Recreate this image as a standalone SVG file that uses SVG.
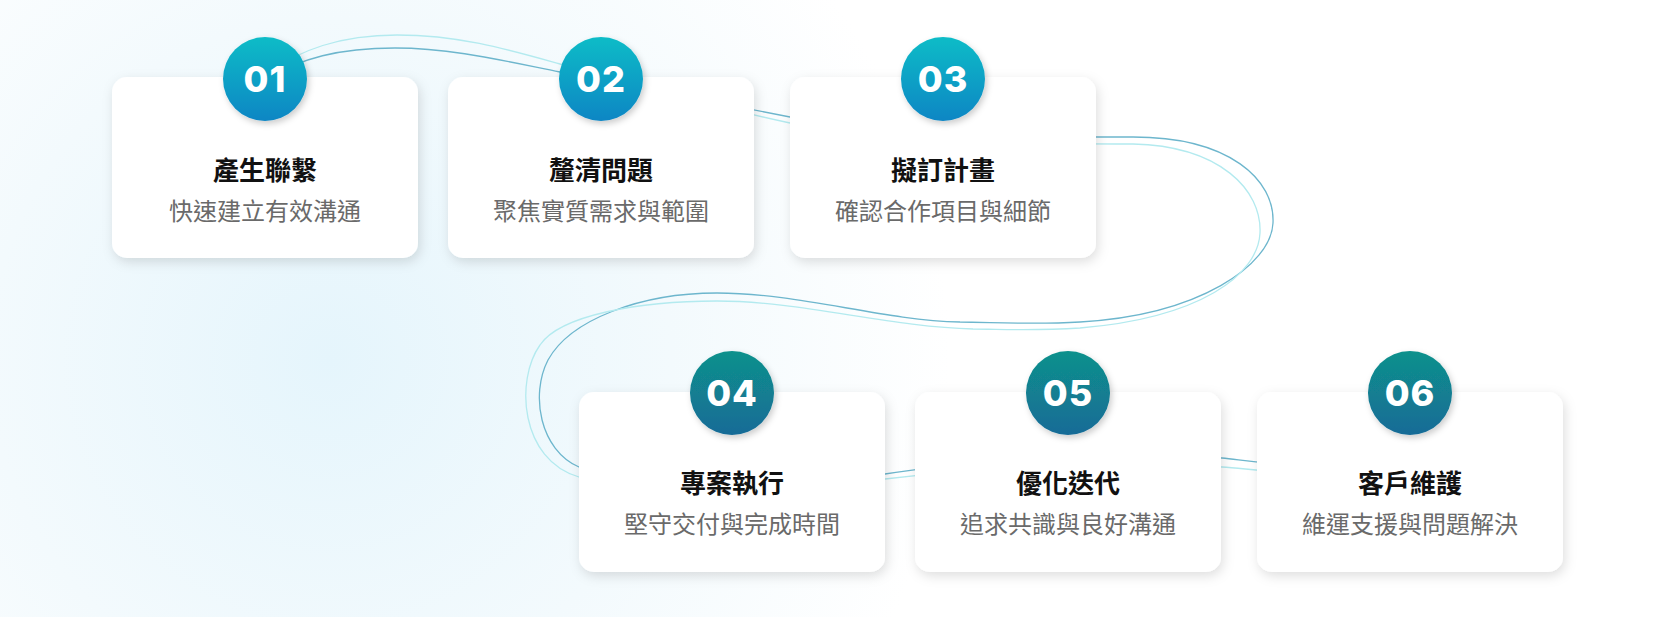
<svg xmlns="http://www.w3.org/2000/svg" width="1675" height="617" viewBox="0 0 1675 617">
  <defs>
    <radialGradient id="bg" cx="330" cy="360" r="620" gradientUnits="userSpaceOnUse">
      <stop offset="0" stop-color="#e5f5fc"/>
      <stop offset="0.55" stop-color="#f3fafd"/>
      <stop offset="1" stop-color="#ffffff"/>
    </radialGradient>
    <linearGradient id="gTop" x1="0" y1="0" x2="0" y2="1">
      <stop offset="0" stop-color="#0bbcc7"/>
      <stop offset="1" stop-color="#0e86c4"/>
    </linearGradient>
    <linearGradient id="gBot" x1="0" y1="0" x2="0" y2="1">
      <stop offset="0" stop-color="#10918c"/>
      <stop offset="1" stop-color="#146b97"/>
    </linearGradient>
    <filter id="shadow" x="-20%" y="-20%" width="140%" height="150%">
      <feDropShadow dx="2" dy="4" stdDeviation="6" flood-color="#000" flood-opacity="0.13"/>
    </filter>
    <filter id="cshadow" x="-30%" y="-30%" width="160%" height="160%">
      <feDropShadow dx="2" dy="3" stdDeviation="3" flood-color="#000" flood-opacity="0.2"/>
    </filter>
  </defs>
  <style>
    .card { fill: #ffffff; filter: url(#shadow); }
    .dark { fill: none; stroke: #6db6cd; stroke-width: 1.3; }
    .light { fill: none; stroke: #b3eaef; stroke-width: 1.3; }
    .num { font-family: Inter, "Noto Sans", sans-serif; font-weight: 800; font-size: 36px; fill: #ffffff; text-anchor: middle; letter-spacing: 1px; }
    .title { font-family: "Noto Sans CJK TC", "Noto Sans CJK SC", sans-serif; font-weight: 700; font-size: 26px; fill: #111111; text-anchor: middle; }
    .sub { font-family: "Noto Sans CJK TC", "Noto Sans CJK SC", sans-serif; font-weight: 400; font-size: 24px; fill: #6a6a6a; text-anchor: middle; }
    .ctop { fill: url(#gTop); filter: url(#cshadow); }
    .cbot { fill: url(#gBot); filter: url(#cshadow); }
  </style>

  <rect x="0" y="0" width="1675" height="617" fill="url(#bg)"/>

  <g id="connectors">
    <path class="dark" d="M 265 80 C 300 58, 340 48, 395 48 C 450 48, 500 60, 560 72 C 640 88, 720 104, 790 117 C 900 136, 1000 137, 1133 137 C 1230 137, 1275 180, 1273 223 C 1271 265, 1200 315, 1080 322 C 1030 325, 990 322, 960 322 C 880 320, 800 293, 717 293 C 640 293, 570 320, 548 360 C 530 395, 540 450, 579 467 C 700 490, 800 480, 885 474 C 960 462, 1100 452, 1222 458 C 1260 462, 1300 468, 1400 470"/>
    <path class="light" d="M 265 74 C 300 50, 340 35, 397 35 C 460 35, 510 50, 560 64 C 640 86, 720 108, 790 123 C 900 142, 1000 144, 1133 144 C 1220 146, 1262 190, 1260 233 C 1258 275, 1200 318, 1080 328 C 1030 331, 1000 329, 973 329 C 890 327, 800 301, 717 301 C 640 301, 560 315, 540 345 C 515 380, 520 460, 579 477 C 700 500, 800 485, 885 479 C 960 470, 1100 460, 1222 467 C 1260 470, 1300 475, 1400 478"/>
  </g>

  <g id="node1">
    <rect class="card" x="112" y="77" width="306" height="181" rx="15"/>
    <circle class="ctop" cx="265" cy="79" r="42"/>
    <text class="num" x="265" y="92">01</text>
    <text class="title" x="265" y="180">產生聯繫</text>
    <text class="sub" x="265" y="220">快速建立有效溝通</text>
  </g>
  <g id="node2">
    <rect class="card" x="448" y="77" width="306" height="181" rx="15"/>
    <circle class="ctop" cx="601" cy="79" r="42"/>
    <text class="num" x="601" y="92">02</text>
    <text class="title" x="601" y="180">釐清問題</text>
    <text class="sub" x="601" y="220">聚焦實質需求與範圍</text>
  </g>
  <g id="node3">
    <rect class="card" x="790" y="77" width="306" height="181" rx="15"/>
    <circle class="ctop" cx="943" cy="79" r="42"/>
    <text class="num" x="943" y="92">03</text>
    <text class="title" x="943" y="180">擬訂計畫</text>
    <text class="sub" x="943" y="220">確認合作項目與細節</text>
  </g>
  <g id="node4">
    <rect class="card" x="579" y="392" width="306" height="180" rx="15"/>
    <circle class="cbot" cx="732" cy="393" r="42"/>
    <text class="num" x="732" y="406">04</text>
    <text class="title" x="732" y="493">專案執行</text>
    <text class="sub" x="732" y="533">堅守交付與完成時間</text>
  </g>
  <g id="node5">
    <rect class="card" x="915" y="392" width="306" height="180" rx="15"/>
    <circle class="cbot" cx="1068" cy="393" r="42"/>
    <text class="num" x="1068" y="406">05</text>
    <text class="title" x="1068" y="493">優化迭代</text>
    <text class="sub" x="1068" y="533">追求共識與良好溝通</text>
  </g>
  <g id="node6">
    <rect class="card" x="1257" y="392" width="306" height="180" rx="15"/>
    <circle class="cbot" cx="1410" cy="393" r="42"/>
    <text class="num" x="1410" y="406">06</text>
    <text class="title" x="1410" y="493">客戶維護</text>
    <text class="sub" x="1410" y="533">維運支援與問題解決</text>
  </g>
</svg>
